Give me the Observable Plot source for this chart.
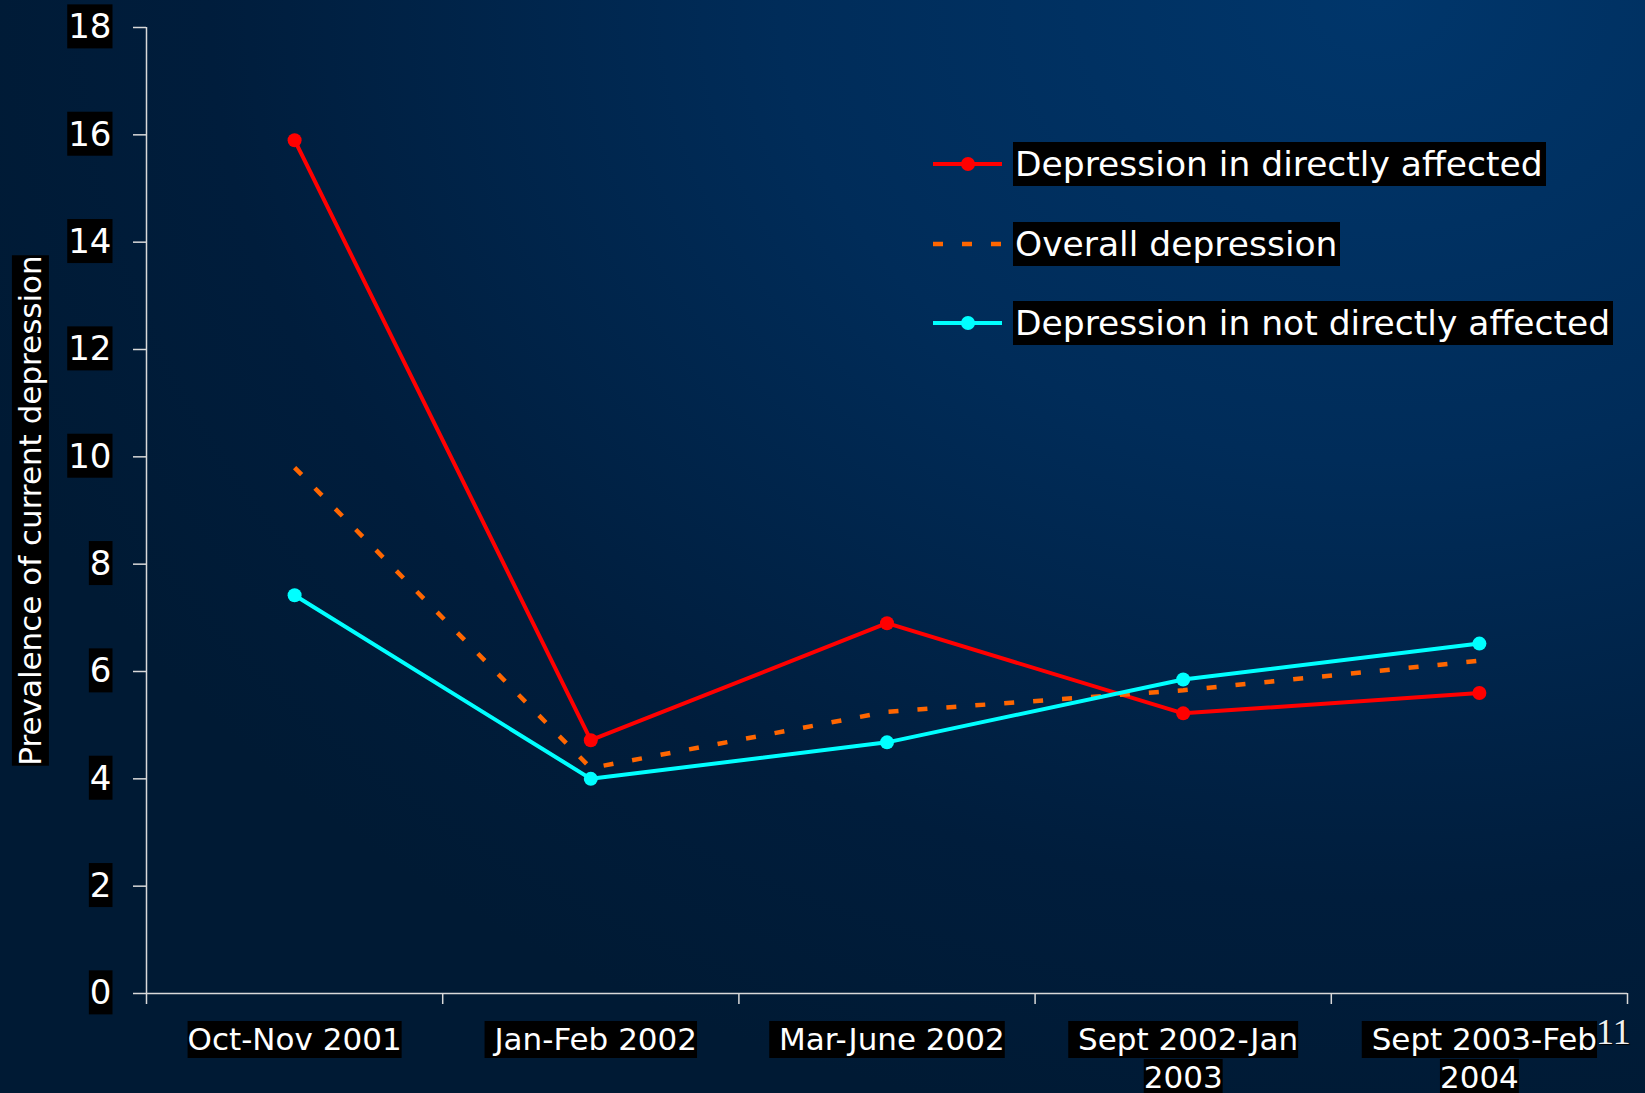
<!DOCTYPE html>
<html><head><meta charset="utf-8">
<script src="https://cdn.jsdelivr.net/npm/d3@7"></script>
<script src="https://cdn.jsdelivr.net/npm/@observablehq/plot@0.6"></script>
<style>
html,body{margin:0;padding:0;background:#001a35;}
#wrap{position:relative;width:1645px;height:1093px;overflow:hidden;
 background: radial-gradient(ellipse 1500px 1150px at 1380px 0px, #00366b 0%, #002c59 40%, #001d3c 78%, #001a34 100%);}
#wrap svg text{white-space:pre;}
.lg-swatch{position:absolute;width:74px;height:20px;}
.lg-text{position:absolute;left:1013px;height:44px;line-height:44px;background:#000;color:#fff;
 font-family:"DejaVu Sans",sans-serif;font-size:34.5px;padding:0 3px 0 2px;white-space:pre;}
#slide{position:absolute;left:1596px;top:1011px;font-family:"Liberation Serif",serif;font-size:36px;color:#f0f0f0;text-shadow:1px 1px 1px #000;}
</style></head><body><div id="wrap"></div>
<script>
// ---- data ----
const categories = ["Oct-Nov 2001", " Jan-Feb 2002", " Mar-June 2002", " Sept 2002-Jan\n2003", " Sept 2003-Feb\n2004"];
const seriesNames = ["Depression in directly affected", "Overall depression", "Depression in not directly affected"];
const directlyAffected = [15.9, 4.72, 6.9, 5.22, 5.6];
const overallDepression = [9.8, 4.2, 5.25, 5.65, 6.2];
const notDirectlyAffected = [7.42, 4.0, 4.68, 5.85, 6.52];
const yTicks = [0, 2, 4, 6, 8, 10, 12, 14, 16, 18];
const yTitle = "Prevalence of current depression";
const slideNumber = "11";

const series = [
  {name: seriesNames[0], values: directlyAffected, color: "#ff0000", dash: null, dot: true},
  {name: seriesNames[1], values: overallDepression, color: "#ff6600", dash: "10,19", dot: false},
  {name: seriesNames[2], values: notDirectlyAffected, color: "#00ffff", dash: null, dot: true}
];
const rowsOf = s => s.values.map((v, i) => ({x: i + 0.5, y: v, cat: categories[i]}));

const seriesMarks = series.flatMap(s => {
  const m = [Plot.line(rowsOf(s), {x: "x", y: "y", stroke: s.color, strokeWidth: s.dash ? 4.5 : 4,
    strokeDasharray: s.dash || undefined, strokeLinecap: "butt", strokeLinejoin: "round"})];
  if (s.dot) m.push(Plot.dot(rowsOf(s), {x: "x", y: "y", r: 7, fill: s.color, stroke: null}));
  return m;
});

const plot = Plot.plot({
  width: 1645, height: 1093,
  marginLeft: 146, marginRight: 18, marginTop: 27, marginBottom: 100,
  style: {background: "transparent", fontFamily: "'DejaVu Sans', sans-serif", color: "white", overflow: "visible", position: "absolute", left: "0px", top: "0px"},
  x: {type: "linear", domain: [0, categories.length]},
  y: {domain: [0, 18]},
  marks: [
    Plot.ruleY([0], {stroke: "#d9d9d9", strokeWidth: 1.5}),
    Plot.ruleX([0], {stroke: "#d9d9d9", strokeWidth: 1.5}),
    Plot.axisX({ticks: d3.range(categories.length + 1), tickSize: 11, tickFormat: () => "", stroke: "#d9d9d9", strokeWidth: 1.5, label: null}),
    Plot.axisY({ticks: yTicks, tickSize: 13, tickPadding: 22, fontSize: 34, fill: "white", stroke: "#d9d9d9", strokeWidth: 1.5, label: null}),
    Plot.text(categories, {x: (d, i) => i + 0.5, frameAnchor: "bottom", lineAnchor: "top", dy: 30, fontSize: 31, lineHeight: 1.226, fill: "white"}),
    Plot.text([yTitle], {frameAnchor: "left", textAnchor: "middle", lineAnchor: "middle", rotate: -90, dx: -115, fontSize: 31, fill: "white"}),
    ...seriesMarks
  ]
});

const wrap = document.getElementById("wrap");
wrap.appendChild(plot);

// black highlight boxes behind texts
const NS = "http://www.w3.org/2000/svg";
function boxTexts(sel, padX, padY) {
  plot.querySelectorAll(sel).forEach(t => {
    const tsp = [...t.querySelectorAll("tspan")];
    const parts = tsp.length ? tsp : [t];
    parts.forEach(p => {
      if (!p.textContent.length || !p.textContent.trim()) return;
      const b = p.getBBox();
      const r = document.createElementNS(NS, "rect");
      r.setAttribute("x", b.x - padX);
      r.setAttribute("y", b.y - padY);
      r.setAttribute("width", b.width + 2 * padX);
      r.setAttribute("height", b.height + 2 * padY);
      r.setAttribute("fill", "#000");
      r.setAttribute("stroke", "none");
      const tr = t.getAttribute("transform");
      if (tr) r.setAttribute("transform", tr);
      t.parentNode.insertBefore(r, t);
    });
  });
}
boxTexts('g[aria-label="y-axis tick label"] text', 1, 2);
boxTexts('g[aria-label="text"] text', 0, 0.5);

// legend
series.forEach((s, i) => {
  const cy = 164 + i * 79.7;
  const sw = d3.select(wrap).append("svg").attr("class", "lg-swatch")
    .style("left", "930px").style("top", (cy - 10) + "px").attr("width", 74).attr("height", 20);
  sw.append("line").attr("x1", 3).attr("x2", 72).attr("y1", 10).attr("y2", 10)
    .attr("stroke", s.color).attr("stroke-width", s.dash ? 4.5 : 4)
    .attr("stroke-dasharray", s.dash || null);
  if (s.dot) sw.append("circle").attr("cx", 38).attr("cy", 10).attr("r", 7).attr("fill", s.color);
  d3.select(wrap).append("div").attr("class", "lg-text").style("top", (cy - 22) + "px").text(s.name);
});

d3.select(wrap).append("div").attr("id", "slide").text(slideNumber);
</script></body></html>
